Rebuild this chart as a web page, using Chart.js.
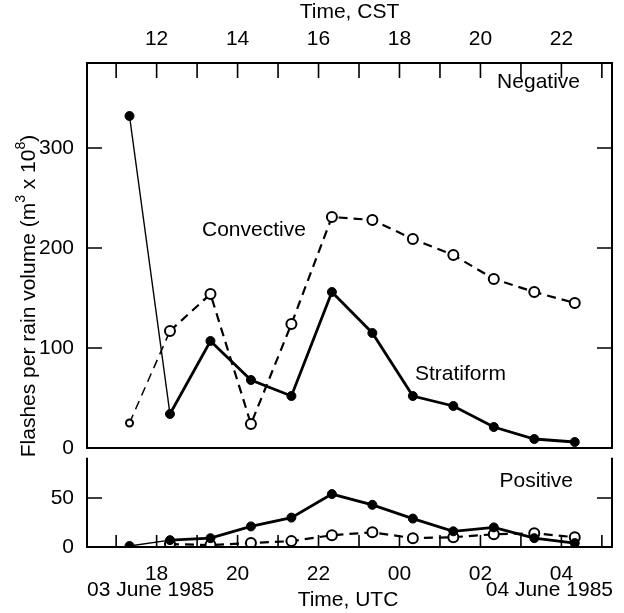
<!DOCTYPE html>
<html>
<head>
<meta charset="utf-8">
<script src="https://cdn.jsdelivr.net/npm/chart.js@4/dist/chart.umd.min.js"></script>
<style>
html,body{margin:0;padding:0;background:#fff;}
#wrap{width:624px;height:613px;position:relative;}
</style>
</head>
<body>
<div id="wrap"><canvas id="c" width="624" height="613"></canvas></div>
<script>
// ---- data ----
const timesUTC = [17.33, 18.33, 19.33, 20.33, 21.33, 22.33, 23.33, 24.33, 25.33, 26.33, 27.33, 28.33];
const negStratiform = [332, 34, 107, 68, 52, 156, 115, 52, 42, 21, 9, 6];
const negConvective = [25, 117, 154, 24, 124, 231, 228, 209, 193, 169, 156, 145];
const posStratiform = [1, 7, 9, 21, 30, 54, 43, 29, 16, 20, 9, 4];
const posConvective = [null, 3, 2, 4, 6, 12, 15, 9, 10, 13, 14, 10];
const utcTickValues = [18, 20, 22, 24, 26, 28];
const utcTickLabels = ['18', '20', '22', '00', '02', '04'];
const cstTickValues = [12, 14, 16, 18, 20, 22];
const cstTickLabels = ['12', '14', '16', '18', '20', '22'];
const negTickValues = [0, 100, 200, 300];
const posTickValues = [0, 50];

const FONT = "'Liberation Sans', Arial, Helvetica, sans-serif";
const FS = 21;
Chart.defaults.color = '#000';
Chart.defaults.font.family = FONT;
Chart.defaults.font.size = FS;

const mk = (arr) => arr.map((v, i) => ({x: timesUTC[i], y: v}));

function stratDS(data, axis) {
  return {
    data: mk(data), yAxisID: axis, xAxisID: 'x',
    borderColor: '#000', backgroundColor: '#000',
    borderWidth: 2.8, pointRadius: 4.5, pointBorderWidth: 1,
    pointBackgroundColor: '#000', pointBorderColor: '#000',
    tension: 0, spanGaps: false,
    segment: { borderWidth: ctx => ctx.p0DataIndex === 0 ? 1.4 : 2.8 },
    order: 0
  };
}
function convDS(data, axis) {
  return {
    data: mk(data), yAxisID: axis, xAxisID: 'x',
    borderColor: '#000', backgroundColor: '#fff',
    borderWidth: 2.2, borderDash: [9, 6],
    pointRadius: data.map((v, i) => i === 0 ? 3.5 : 5), pointBorderWidth: 2,
    pointBackgroundColor: '#fff', pointBorderColor: '#000',
    tension: 0, spanGaps: false,
    segment: { borderWidth: ctx => ctx.p0DataIndex === 0 ? 1.5 : 2.2 },
    order: 1
  };
}

const frame = {
  id: 'frame',
  afterDraw(chart) {
    const ctx = chart.ctx;
    const a = chart.chartArea;
    const yN = chart.scales.yNeg, yP = chart.scales.yPos;
    const xT = chart.scales.xTop, xB = chart.scales.x;
    ctx.save();
    ctx.strokeStyle = '#000';
    ctx.lineWidth = 2;
    const topB = yN.getPixelForValue(0);
    ctx.strokeRect(a.left, a.top, a.right - a.left, topB - a.top);
    const bTop = yP.getPixelForValue(91);
    ctx.beginPath();
    ctx.moveTo(a.left, bTop); ctx.lineTo(a.left, a.bottom); ctx.lineTo(a.right, a.bottom); ctx.lineTo(a.right, bTop);
    ctx.stroke();
    ctx.lineWidth = 1.6;
    ctx.beginPath();
    for (let h = 11; h <= 23; h++) {
      const px = xT.getPixelForValue(h);
      ctx.moveTo(px, a.top); ctx.lineTo(px, a.top + 15);
    }
    for (let h = 17; h <= 29; h++) {
      const px = xB.getPixelForValue(h);
      ctx.moveTo(px, a.bottom); ctx.lineTo(px, a.bottom - 12);
    }
    negTickValues.slice(1).forEach(v => {
      const py = yN.getPixelForValue(v);
      ctx.moveTo(a.left, py); ctx.lineTo(a.left + 15, py);
      ctx.moveTo(a.right, py); ctx.lineTo(a.right - 15, py);
    });
    posTickValues.slice(1).forEach(v => {
      const py = yP.getPixelForValue(v);
      ctx.moveTo(a.left, py); ctx.lineTo(a.left + 15, py);
      ctx.moveTo(a.right, py); ctx.lineTo(a.right - 15, py);
    });
    ctx.stroke();
    ctx.fillStyle = '#000';
    ctx.font = FS + 'px ' + FONT;
    ctx.textBaseline = 'middle';
    ctx.textAlign = 'right';
    ctx.fillText('Negative', 580, 82);
    ctx.fillText('Positive', 573, 481);
    ctx.textAlign = 'left';
    ctx.fillText('Convective', 202, 230);
    ctx.fillText('Stratiform', 415, 374);
    ctx.fillText('03 June 1985', 87, 590);
    ctx.textAlign = 'right';
    ctx.fillText('04 June 1985', 613, 590);
    ctx.textAlign = 'center';
    ctx.fillText('Time, UTC', 348, 600);
    // y title with raised exponents
    const parts = [
      ['Flashes per rain volume (m', FS, 0],
      ['3', 14, -8],
      [' x 10', FS, 0],
      ['8', 14, -8],
      [')', FS, 0]
    ];
    let total = 0;
    parts.forEach(p => { ctx.font = p[1] + 'px ' + FONT; p.push(ctx.measureText(p[0]).width); total += p[3]; });
    ctx.save();
    ctx.translate(29, 296);
    ctx.rotate(-Math.PI / 2);
    ctx.textAlign = 'left';
    let cx = -total / 2;
    parts.forEach(p => {
      ctx.font = p[1] + 'px ' + FONT;
      ctx.fillText(p[0], cx, p[2]);
      cx += p[3];
    });
    ctx.restore();
    ctx.restore();
  }
};

new Chart(document.getElementById('c'), {
  type: 'line',
  data: {
    datasets: [
      stratDS(negStratiform, 'yNeg'),
      convDS(negConvective, 'yNeg'),
      stratDS(posStratiform, 'yPos'),
      convDS(posConvective, 'yPos')
    ]
  },
  options: {
    responsive: false,
    animation: false,
    layout: { padding: { left: 0, right: 12, top: 0, bottom: 0 } },
    plugins: { legend: { display: false }, tooltip: { enabled: false } },
    scales: {
      x: {
        type: 'linear', position: 'bottom', min: 16.28, max: 29.25,
        grid: { display: false }, border: { display: false },
        afterBuildTicks: s => { s.ticks = utcTickValues.map(v => ({value: v})); },
        ticks: { autoSkip: false, maxRotation: 0, padding: 7, callback: (v, i) => utcTickLabels[i] },
        afterFit: s => { s.height = 66; }
      },
      xTop: {
        type: 'linear', position: 'top', min: 10.28, max: 23.25,
        grid: { display: false }, border: { display: false },
        afterBuildTicks: s => { s.ticks = cstTickValues.map(v => ({value: v})); },
        ticks: { autoSkip: false, maxRotation: 0, padding: 3, callback: (v, i) => cstTickLabels[i] },
        title: { display: true, text: 'Time, CST', padding: { top: 0, bottom: 0 }, font: { size: FS } },
        afterFit: s => { s.height = 63; }
      },
      yPos: {
        type: 'linear', position: 'left', stack: 'panels', stackWeight: 99,
        min: 0, max: 101,
        grid: { display: false }, border: { display: false },
        afterBuildTicks: s => { s.ticks = posTickValues.map(v => ({value: v})); },
        ticks: { padding: 5 },
        afterFit: s => { s.width = 87; }
      },
      yNeg: {
        type: 'linear', position: 'left', stack: 'panels', stackWeight: 385,
        min: 0, max: 385,
        grid: { display: false }, border: { display: false },
        afterBuildTicks: s => { s.ticks = negTickValues.map(v => ({value: v})); },
        ticks: { padding: 5 },
        afterFit: s => { s.width = 87; }
      }
    }
  },
  plugins: [frame]
});
</script>
</body>
</html>
